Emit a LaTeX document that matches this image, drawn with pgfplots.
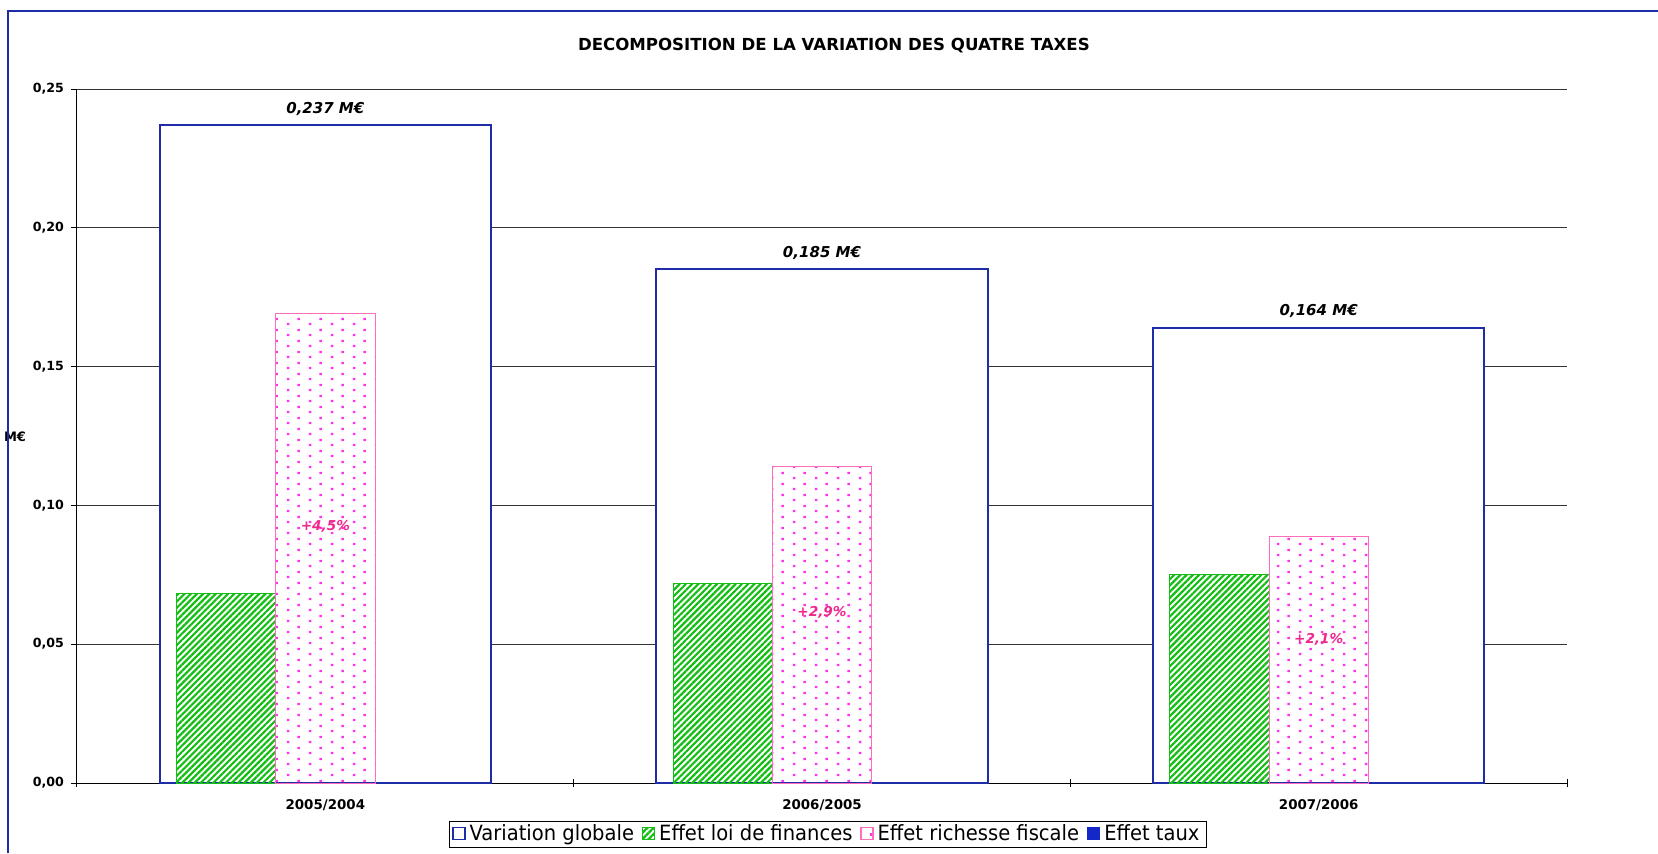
\documentclass[border=0pt]{standalone}
\usepackage{fontspec}
\setmainfont{DejaVu Sans}
\newfontfamily\condfont{DejaVu Sans}[FakeStretch=0.93]
\usepackage{pgfplots}
\pgfplotsset{compat=1.18}
\usetikzlibrary{patterns,patterns.meta}
\definecolor{vblue}{RGB}{30,45,165}
\definecolor{lgreen}{RGB}{20,190,20}
\definecolor{pinkdot}{RGB}{255,50,240}
\definecolor{pinkedge}{RGB}{255,110,190}
\definecolor{pinklab}{RGB}{240,40,140}
\definecolor{taublue}{RGB}{20,40,200}
\tikzdeclarepattern{
  name=pinkdots,
  type=uncolored,
  bottom left={(0pt,0pt)},
  top right={(11pt,5.5pt)},
  tile size={(11pt,5.5pt)},
  code={
    \fill (0.5pt,0.5pt) rectangle (1.7pt,1.7pt);
    \fill (6pt,3.25pt) rectangle (7.2pt,4.45pt);
  }
}
\pgfplotsset{sqlegend/.style={legend image code/.code={\draw[##1,line width=0.6pt] (0pt,-2.4pt) rectangle (6pt,3.6pt);}}}
\begin{document}
\begin{tikzpicture}
\useasboundingbox (-38.5pt,-35pt) rectangle (790.5pt,391.5pt);
\begin{axis}[
  at={(0,0)}, anchor=south west,
  scale only axis, width=745pt, height=347pt,
  xmin=-0.5, xmax=2.5, ymin=0, ymax=0.25,
  axis x line*=bottom, axis y line*=left,
  axis line style={black, line width=0.5pt},
  ytick={0,0.05,0.1,0.15,0.2,0.25},
  /pgf/number format/.cd, fixed, fixed zerofill, precision=2, use comma, assume math mode=true,
  /pgfplots/.cd,
  yticklabel style={font=\bfseries\fontsize{6.3}{7}\selectfont},
  ymajorgrids, major grid style={black!80, line width=0.5pt},
  tick align=outside, major tick length=3pt,
  tick style={black, line width=0.5pt},
  xtick={0,1,2}, xticklabels={2005/2004,2006/2005,2007/2006},
  xtick style={draw=none},
  xticklabel style={font=\bfseries\fontsize{6.7}{7.5}\selectfont, yshift=-1.5pt},
  extra x ticks={-0.5,0.5,1.5,2.5}, extra x tick labels={},
  extra x tick style={tick align=center, major tick length=4pt, grid=none, xtick style={draw=black}},
  title={\bfseries\fontsize{8.3}{9}\selectfont DECOMPOSITION DE LA VARIATION DES QUATRE TAXES},
  title style={at={(0.508,1.046)}, anchor=center},
  ylabel={\bfseries\fontsize{6.5}{7}\selectfont M€},
  ylabel style={at={(axis description cs:-0.0416,0.4986)}, rotate=-90, anchor=center},
  legend style={at={(0.504,-0.0742)}, anchor=center, draw=black, line width=0.5pt,
    font=\condfont\fontsize{10.5}{11}\selectfont, legend columns=-1, inner xsep=1.5pt, inner ysep=0pt,
    /tikz/every even column/.append style={column sep=2pt},
    /tikz/every odd column/.append style={column sep=0pt}},
]
\addplot[ybar, bar width=0.667, bar shift=0, fill=white, draw=vblue, line width=1pt,
  sqlegend,
  nodes near coords, point meta=explicit symbolic,
  every node near coord/.append style={font=\bfseries\itshape\fontsize{7.5}{8}\selectfont, black, yshift=1pt}]
  coordinates {(0,0.237)[0,237 M€] (1,0.185)[0,185 M€] (2,0.164)[0,164 M€]};
\addlegendentry{Variation globale}
\addplot[ybar, bar width=0.2, bar shift=-0.2, draw=lgreen, line width=0.5pt,
  pattern={Lines[angle=45,distance=2.2pt,line width=1.1pt]}, pattern color=lgreen, sqlegend]
  coordinates {(0,0.0682) (1,0.0720) (2,0.0751)};
\addlegendentry{Effet loi de finances}
\addplot[ybar, bar width=0.2, bar shift=0, draw=pinkedge, line width=0.5pt,
  pattern=pinkdots, pattern color=pinkdot, sqlegend]
  coordinates {(0,0.1692) (1,0.1139) (2,0.0888)};
\addlegendentry{Effet richesse fiscale}
\addplot[draw=none, forget plot, nodes near coords, point meta=explicit symbolic,
  every node near coord/.append style={anchor=center, font=\bfseries\itshape\fontsize{6.8}{7}\selectfont, text=pinklab}]
  coordinates {(0,0.0926)[+4,5\%] (1,0.0614)[+2,9\%] (2,0.0518)[+2,1\%]};
\addlegendimage{sqlegend, fill=taublue, draw=taublue}
\addlegendentry{Effet taux}
\end{axis}
\draw[vblue, line width=1pt] (-34.5pt,-35pt) -- (-34.5pt,386pt) -- (790.5pt,386pt);
\end{tikzpicture}
\end{document}
